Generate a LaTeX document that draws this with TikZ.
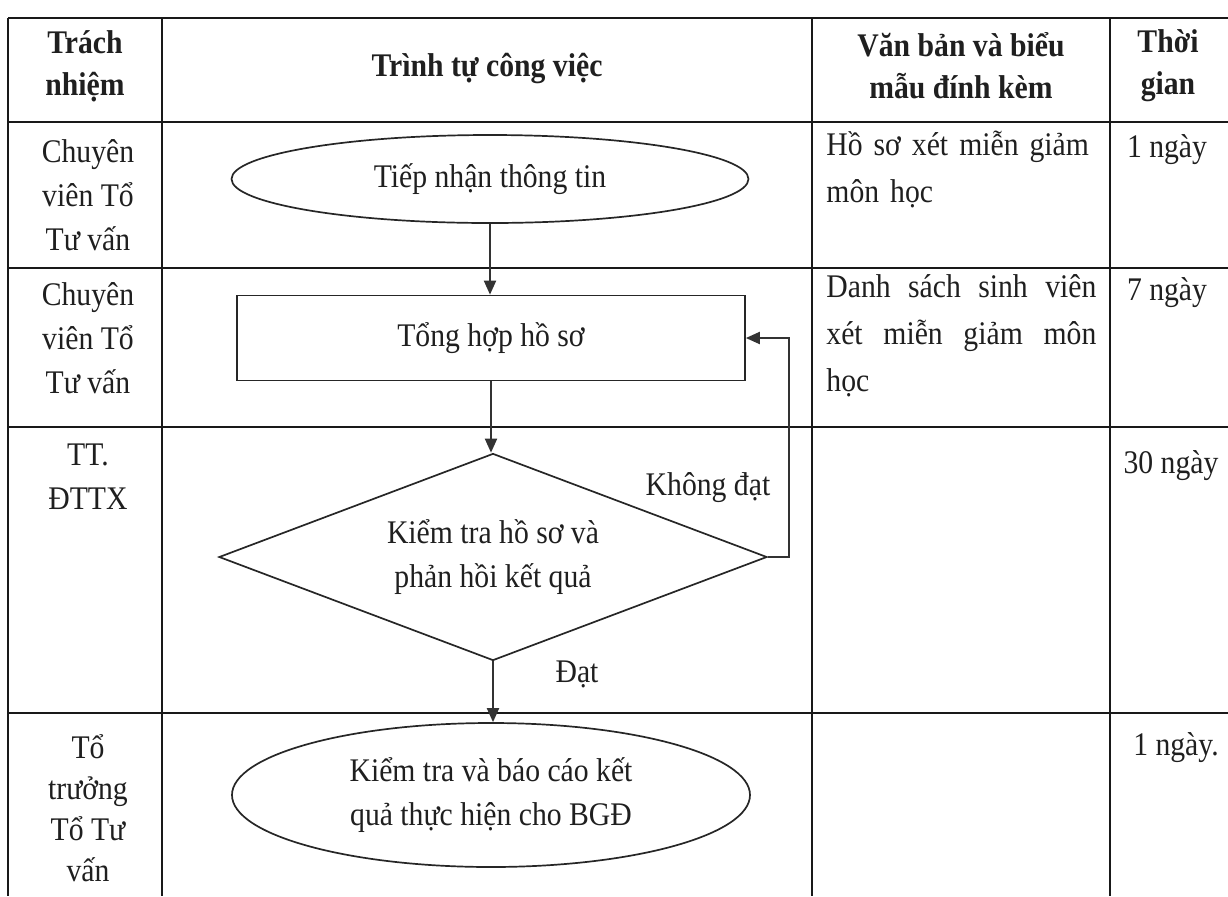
\documentclass[tikz,border=0pt]{standalone}
\usepackage{fontspec}
\setmainfont{Liberation Serif}[FakeStretch=0.9]
\usetikzlibrary{shapes.geometric,arrows.meta}
\begin{document}
\begin{tikzpicture}[x=0.5pt,y=-0.5pt,
  grid/.style={line width=0.7pt,black!90},
  txt/.style={font=\fontsize{16.5}{22}\selectfont,text=black!88,inner sep=0pt},
  cell/.style={txt,align=center},
  hdr/.style={txt,align=center,font=\fontsize{16.5}{21}\bfseries\selectfont},
  doc/.style={txt,text width=135pt,align=justify,anchor=north west,font=\fontsize{16.5}{23.5}\selectfont},
  shp/.style={draw=black!85,line width=0.85pt,txt,align=center},
  arr/.style={draw=black!80,line width=1pt,-{Triangle[length=7pt,width=6pt]}},
]
\useasboundingbox (0,0) rectangle (1228,896);
% table grid
\foreach \yy in {18,122,268,427,713} \draw[grid] (8,\yy) -- (1228,\yy);
\foreach \xx in {8,162,812,1110} \draw[grid] (\xx,18) -- (\xx,896);
% header
\node[hdr] (h1) at (85,66) {Trách\\nhiệm};
\node[hdr] (h2) at (487,68) {Trình tự công việc};
\node[hdr] (h3) at (961,66) {Văn bản và biểu\\mẫu đính kèm};
\node[hdr] (h4) at (1168,66) {Thời\\gian};
% responsibility column
\node[cell] (r1) at (88,195) {Chuyên\\viên Tổ\\Tư vấn};
\node[cell] (r2) at (88,338) {Chuyên\\viên Tổ\\Tư vấn};
\node[cell] (r3) at (88,477) {TT.\\ĐTTX};
\node[cell,font=\fontsize{16.5}{20.5}\selectfont] (r4) at (88,808) {Tổ\\trưởng\\Tổ Tư\\vấn};
% documents column
\node[doc,align=left] (d1) at (826,131) {Hồ sơ xét miễn giảm môn học};
\node[doc] (d2) at (826,274) {Danh sách sinh viên xét miễn giảm môn học};
% time column
\node[cell] (t1) at (1167,150) {1 ngày};
\node[cell] (t2) at (1167,293) {7 ngày};
\node[cell] (t3) at (1171,466) {30 ngày};
\node[cell] (t4) at (1176,748) {1 ngày.};
% flowchart
\node[shp,ellipse,minimum width=258.5pt,minimum height=44pt] (a) at (490,179) {Tiếp nhận thông tin};
\node[shp,rectangle,minimum width=254pt,minimum height=42.5pt] (b) at (491,338) {Tổng hợp hồ sơ};
\node[shp,diamond,aspect=2.6,minimum width=274pt,minimum height=103.5pt] (c) at (493,557) {Kiểm tra hồ sơ và\\phản hồi kết quả};
\node[shp,ellipse,minimum width=259pt,minimum height=72pt] (d) at (491,795) {Kiểm tra và báo cáo kết\\quả thực hiện cho BGĐ};
\coordinate (k1) at (789,557);
\node[txt] (nd) at (708,488) {Không đạt};
\node[txt] (dt) at (577,674) {Đạt};
\draw[arr] (a.south) -- (a.south |- b.north);
\draw[arr] (b.south) -- (b.south |- c.north);
\draw[arr] (c.east) -- (k1) |- (b.east);
\draw[arr] (c.south) -- (c.south |- d.north);
\end{tikzpicture}
\end{document}
